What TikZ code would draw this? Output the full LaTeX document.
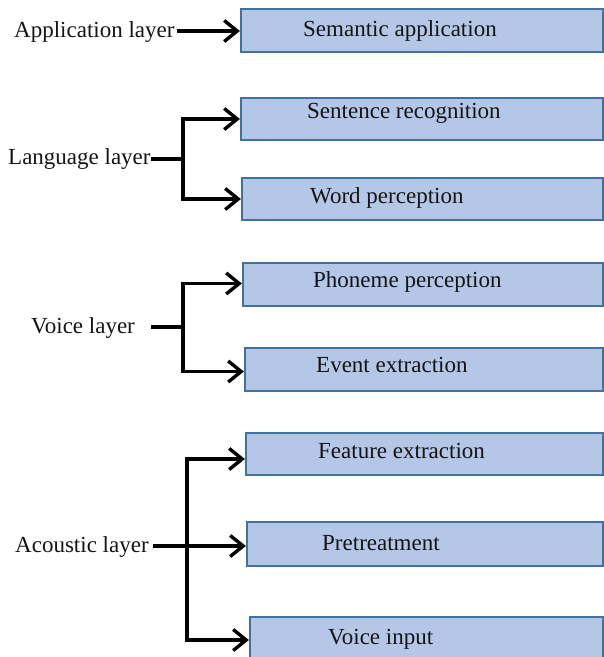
\documentclass[tikz,border=0pt]{standalone}
\usepackage{fontspec}
\setmainfont{Liberation Serif}
\usetikzlibrary{arrows.meta}
\definecolor{boxfill}{RGB}{180,199,231}
\definecolor{boxline}{RGB}{65,113,156}
\definecolor{ink}{RGB}{20,20,20}
\begin{document}
\begin{tikzpicture}[x=1pt,y=-1pt,
  layerbox/.style={draw=boxline, fill=boxfill, line width=2.2pt, inner sep=0pt},
  lbl/.style={font=\fontsize{23}{27}\selectfont, text=ink, inner sep=0pt, anchor=base west},
  link/.style={line width=3.4pt, line join=miter, draw=black},
  arr/.style={link, -{Straight Barb[length=13pt,width=21pt]}},
]
\useasboundingbox (0,0) rectangle (604,657);
\clip (0,0) rectangle (604,657);

% layer boxes
\node[layerbox, minimum width=362pt, minimum height=43pt] (sem)  at (422,30.5)  {};
\node[layerbox, minimum width=362pt, minimum height=42pt] (sent) at (422,119)   {};
\node[layerbox, minimum width=361pt, minimum height=42pt] (word) at (422.5,199) {};
\node[layerbox, minimum width=360pt, minimum height=43pt] (phon) at (423,284.5) {};
\node[layerbox, minimum width=358pt, minimum height=43pt] (evt)  at (424,369.5) {};
\node[layerbox, minimum width=357pt, minimum height=42pt] (feat) at (424.5,454) {};
\node[layerbox, minimum width=356pt, minimum height=44pt] (pret) at (425,544)   {};
\node[layerbox, minimum width=353pt, minimum height=46pt] (vin)  at (426.5,640) {};

% box texts (placed on their baselines)
\node[lbl] (tsem)  at (303,36)  {Semantic application};
\node[lbl] (tsent) at (307,118) {Sentence recognition};
\node[lbl] (tword) at (310,203) {Word perception};
\node[lbl] (tphon) at (313,287) {Phoneme perception};
\node[lbl] (tevt)  at (316,372) {Event extraction};
\node[lbl] (tfeat) at (318,458) {Feature extraction};
\node[lbl] (tpret) at (322,550) {Pretreatment};
\node[lbl] (tvin)  at (328,644) {Voice input};

% layer names
\node[lbl] (app)   at (14,37)  {Application layer};
\node[lbl] (lang)  at (8,164)  {Language layer};
\node[lbl] (voice) at (31,333) {Voice layer};
\node[lbl] (acou)  at (15,552) {Acoustic layer};

% connector start points, just right of each layer name at mid height
\coordinate (appout)  at ([xshift=2pt,yshift=6pt]app.base east);
\coordinate (langout) at ([xshift=0pt,yshift=5pt]lang.base east);
\coordinate (voiceout) at ([xshift=16pt,yshift=6pt]voice.base east);
\coordinate (acouout) at ([xshift=4pt,yshift=6pt]acou.base east);

% branch points
\coordinate (lt) at (langout -| 183,0);
\coordinate (vt) at (voiceout -| 183,0);
\coordinate (at) at (acouout -| 187,0);

% application layer
\draw[arr] (appout) -- (appout -| sem.west);

% language layer
\draw[link] (langout) -- (lt);
\draw[arr] (lt) |- (sent.west);
\draw[arr] (lt) |- (word.west);

% voice layer
\draw[link] (voiceout) -- (vt);
\draw[arr] (vt) |- ([yshift=1pt]phon.west);
\draw[arr] (vt) |- ([yshift=-2pt]evt.west);

% acoustic layer
\draw[arr] (acouout) -- (acouout -| pret.west);
\draw[arr] (at) |- ([yshift=-5pt]feat.west);
\draw[arr] (at) |- (vin.west);
\end{tikzpicture}
\end{document}
